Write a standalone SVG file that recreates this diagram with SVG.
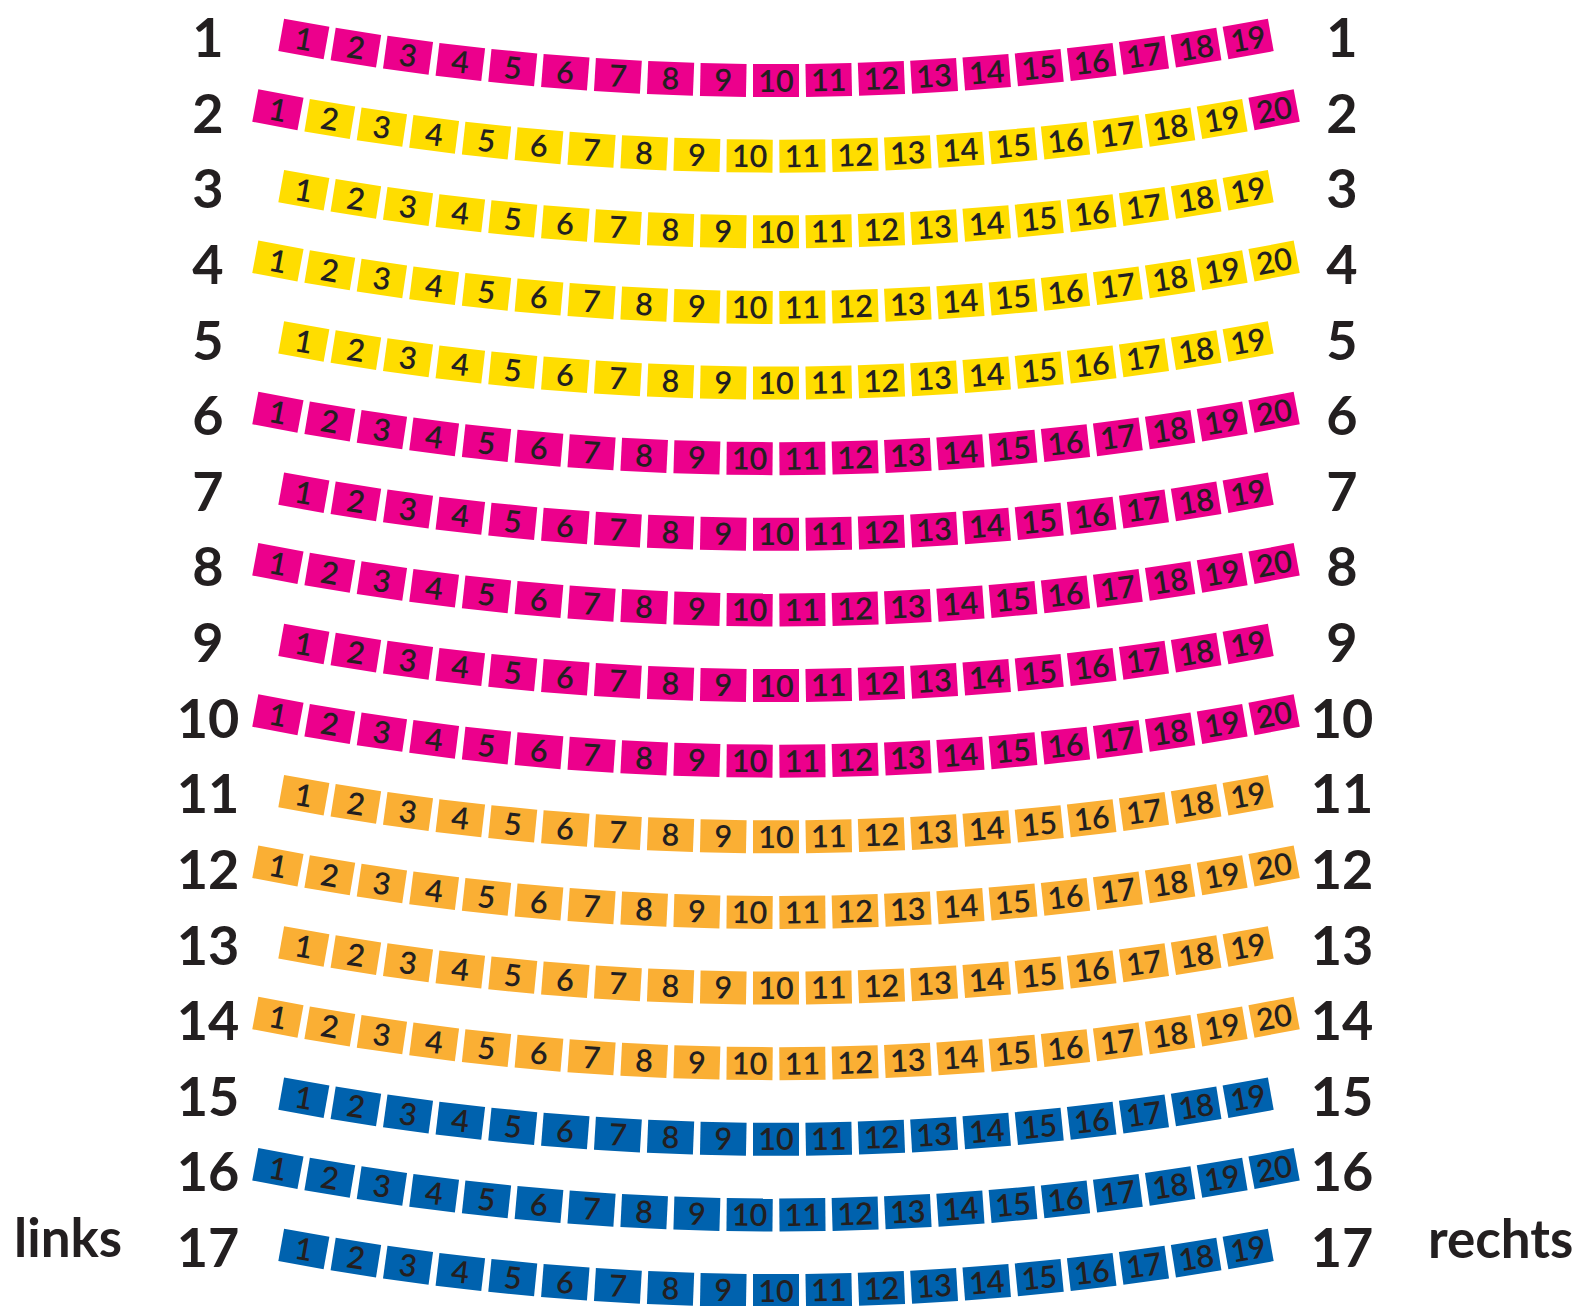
<svg xmlns="http://www.w3.org/2000/svg" xmlns:xlink="http://www.w3.org/1999/xlink" width="1588" height="1306" viewBox="0 0 1588 1306">
<style>
.m{fill:#EC008C}.y{fill:#FFDD00}.o{fill:#FAAF34}.b{fill:#0062AE}
.seat text{fill:#231F20;font-family:Lato,"Liberation Sans",sans-serif;font-weight:600;font-size:30.5px;text-anchor:middle}
.lbl{fill:#231F20;font-family:Lato,"Liberation Sans",sans-serif;font-weight:700;font-size:54px;text-anchor:middle}
.side{fill:#231F20;font-family:Lato,"Liberation Sans",sans-serif;font-weight:700;font-size:53px}
</style>
<defs><rect id="b" x="-23" y="2683.5" width="46" height="33"/></defs>
<rect width="1588" height="1306" fill="#fff"/>
<g id="labels-left" class="lbl">
<text x="208" y="57">1</text><text x="208" y="132.6">2</text><text x="208" y="208.3">3</text><text x="208" y="283.9">4</text><text x="208" y="359.5">5</text><text x="208" y="435.1">6</text><text x="208" y="510.8">7</text><text x="208" y="586.4">8</text><text x="208" y="662">9</text><text x="208" y="737.6">10</text><text x="208" y="813.3">11</text><text x="208" y="888.9">12</text><text x="208" y="964.5">13</text><text x="208" y="1040.1">14</text><text x="208" y="1115.8">15</text><text x="208" y="1191.4">16</text><text x="208" y="1267">17</text>
</g>
<g id="labels-right" class="lbl">
<text x="1342" y="57">1</text><text x="1342" y="132.6">2</text><text x="1342" y="208.3">3</text><text x="1342" y="283.9">4</text><text x="1342" y="359.5">5</text><text x="1342" y="435.1">6</text><text x="1342" y="510.8">7</text><text x="1342" y="586.4">8</text><text x="1342" y="662">9</text><text x="1342" y="737.6">10</text><text x="1342" y="813.3">11</text><text x="1342" y="888.9">12</text><text x="1342" y="964.5">13</text><text x="1342" y="1040.1">14</text><text x="1342" y="1115.8">15</text><text x="1342" y="1191.4">16</text><text x="1342" y="1267">17</text>
</g>
<g id="side-labels" class="side"><text id="links" x="14" y="1257">links</text><text id="rechts" x="1428" y="1258">rechts</text></g>

<g id="row1" class="seat m" transform="translate(776,-2619.5)">
<g id="r1s1" transform="rotate(10.071)"><use href="#b"/><text y="2711">1</text></g>
<g id="r1s2" transform="rotate(8.952)"><use href="#b"/><text y="2711">2</text></g>
<g id="r1s3" transform="rotate(7.833)"><use href="#b"/><text y="2711">3</text></g>
<g id="r1s4" transform="rotate(6.714)"><use href="#b"/><text y="2711">4</text></g>
<g id="r1s5" transform="rotate(5.595)"><use href="#b"/><text y="2711">5</text></g>
<g id="r1s6" transform="rotate(4.476)"><use href="#b"/><text y="2711">6</text></g>
<g id="r1s7" transform="rotate(3.357)"><use href="#b"/><text y="2711">7</text></g>
<g id="r1s8" transform="rotate(2.238)"><use href="#b"/><text y="2711">8</text></g>
<g id="r1s9" transform="rotate(1.119)"><use href="#b"/><text y="2711">9</text></g>
<g id="r1s10" transform="rotate(0)"><use href="#b"/><text y="2711">10</text></g>
<g id="r1s11" transform="rotate(-1.119)"><use href="#b"/><text y="2711">11</text></g>
<g id="r1s12" transform="rotate(-2.238)"><use href="#b"/><text y="2711">12</text></g>
<g id="r1s13" transform="rotate(-3.357)"><use href="#b"/><text y="2711">13</text></g>
<g id="r1s14" transform="rotate(-4.476)"><use href="#b"/><text y="2711">14</text></g>
<g id="r1s15" transform="rotate(-5.595)"><use href="#b"/><text y="2711">15</text></g>
<g id="r1s16" transform="rotate(-6.714)"><use href="#b"/><text y="2711">16</text></g>
<g id="r1s17" transform="rotate(-7.833)"><use href="#b"/><text y="2711">17</text></g>
<g id="r1s18" transform="rotate(-8.952)"><use href="#b"/><text y="2711">18</text></g>
<g id="r1s19" transform="rotate(-10.071)"><use href="#b"/><text y="2711">19</text></g>
</g>

<g id="row2" class="seat y" transform="translate(776,-2543.9)">
<g id="r2s1" class="m" transform="rotate(10.631)"><use href="#b"/><text y="2711">1</text></g>
<g id="r2s2" transform="rotate(9.512)"><use href="#b"/><text y="2711">2</text></g>
<g id="r2s3" transform="rotate(8.393)"><use href="#b"/><text y="2711">3</text></g>
<g id="r2s4" transform="rotate(7.274)"><use href="#b"/><text y="2711">4</text></g>
<g id="r2s5" transform="rotate(6.155)"><use href="#b"/><text y="2711">5</text></g>
<g id="r2s6" transform="rotate(5.036)"><use href="#b"/><text y="2711">6</text></g>
<g id="r2s7" transform="rotate(3.917)"><use href="#b"/><text y="2711">7</text></g>
<g id="r2s8" transform="rotate(2.798)"><use href="#b"/><text y="2711">8</text></g>
<g id="r2s9" transform="rotate(1.679)"><use href="#b"/><text y="2711">9</text></g>
<g id="r2s10" transform="rotate(0.56)"><use href="#b"/><text y="2711">10</text></g>
<g id="r2s11" transform="rotate(-0.56)"><use href="#b"/><text y="2711">11</text></g>
<g id="r2s12" transform="rotate(-1.679)"><use href="#b"/><text y="2711">12</text></g>
<g id="r2s13" transform="rotate(-2.798)"><use href="#b"/><text y="2711">13</text></g>
<g id="r2s14" transform="rotate(-3.917)"><use href="#b"/><text y="2711">14</text></g>
<g id="r2s15" transform="rotate(-5.036)"><use href="#b"/><text y="2711">15</text></g>
<g id="r2s16" transform="rotate(-6.155)"><use href="#b"/><text y="2711">16</text></g>
<g id="r2s17" transform="rotate(-7.274)"><use href="#b"/><text y="2711">17</text></g>
<g id="r2s18" transform="rotate(-8.393)"><use href="#b"/><text y="2711">18</text></g>
<g id="r2s19" transform="rotate(-9.512)"><use href="#b"/><text y="2711">19</text></g>
<g id="r2s20" class="m" transform="rotate(-10.631)"><use href="#b"/><text y="2711">20</text></g>
</g>

<g id="row3" class="seat y" transform="translate(776,-2468.25)">
<g id="r3s1" transform="rotate(10.071)"><use href="#b"/><text y="2711">1</text></g>
<g id="r3s2" transform="rotate(8.952)"><use href="#b"/><text y="2711">2</text></g>
<g id="r3s3" transform="rotate(7.833)"><use href="#b"/><text y="2711">3</text></g>
<g id="r3s4" transform="rotate(6.714)"><use href="#b"/><text y="2711">4</text></g>
<g id="r3s5" transform="rotate(5.595)"><use href="#b"/><text y="2711">5</text></g>
<g id="r3s6" transform="rotate(4.476)"><use href="#b"/><text y="2711">6</text></g>
<g id="r3s7" transform="rotate(3.357)"><use href="#b"/><text y="2711">7</text></g>
<g id="r3s8" transform="rotate(2.238)"><use href="#b"/><text y="2711">8</text></g>
<g id="r3s9" transform="rotate(1.119)"><use href="#b"/><text y="2711">9</text></g>
<g id="r3s10" transform="rotate(0)"><use href="#b"/><text y="2711">10</text></g>
<g id="r3s11" transform="rotate(-1.119)"><use href="#b"/><text y="2711">11</text></g>
<g id="r3s12" transform="rotate(-2.238)"><use href="#b"/><text y="2711">12</text></g>
<g id="r3s13" transform="rotate(-3.357)"><use href="#b"/><text y="2711">13</text></g>
<g id="r3s14" transform="rotate(-4.476)"><use href="#b"/><text y="2711">14</text></g>
<g id="r3s15" transform="rotate(-5.595)"><use href="#b"/><text y="2711">15</text></g>
<g id="r3s16" transform="rotate(-6.714)"><use href="#b"/><text y="2711">16</text></g>
<g id="r3s17" transform="rotate(-7.833)"><use href="#b"/><text y="2711">17</text></g>
<g id="r3s18" transform="rotate(-8.952)"><use href="#b"/><text y="2711">18</text></g>
<g id="r3s19" transform="rotate(-10.071)"><use href="#b"/><text y="2711">19</text></g>
</g>

<g id="row4" class="seat y" transform="translate(776,-2392.6)">
<g id="r4s1" transform="rotate(10.631)"><use href="#b"/><text y="2711">1</text></g>
<g id="r4s2" transform="rotate(9.512)"><use href="#b"/><text y="2711">2</text></g>
<g id="r4s3" transform="rotate(8.393)"><use href="#b"/><text y="2711">3</text></g>
<g id="r4s4" transform="rotate(7.274)"><use href="#b"/><text y="2711">4</text></g>
<g id="r4s5" transform="rotate(6.155)"><use href="#b"/><text y="2711">5</text></g>
<g id="r4s6" transform="rotate(5.036)"><use href="#b"/><text y="2711">6</text></g>
<g id="r4s7" transform="rotate(3.917)"><use href="#b"/><text y="2711">7</text></g>
<g id="r4s8" transform="rotate(2.798)"><use href="#b"/><text y="2711">8</text></g>
<g id="r4s9" transform="rotate(1.679)"><use href="#b"/><text y="2711">9</text></g>
<g id="r4s10" transform="rotate(0.56)"><use href="#b"/><text y="2711">10</text></g>
<g id="r4s11" transform="rotate(-0.56)"><use href="#b"/><text y="2711">11</text></g>
<g id="r4s12" transform="rotate(-1.679)"><use href="#b"/><text y="2711">12</text></g>
<g id="r4s13" transform="rotate(-2.798)"><use href="#b"/><text y="2711">13</text></g>
<g id="r4s14" transform="rotate(-3.917)"><use href="#b"/><text y="2711">14</text></g>
<g id="r4s15" transform="rotate(-5.036)"><use href="#b"/><text y="2711">15</text></g>
<g id="r4s16" transform="rotate(-6.155)"><use href="#b"/><text y="2711">16</text></g>
<g id="r4s17" transform="rotate(-7.274)"><use href="#b"/><text y="2711">17</text></g>
<g id="r4s18" transform="rotate(-8.393)"><use href="#b"/><text y="2711">18</text></g>
<g id="r4s19" transform="rotate(-9.512)"><use href="#b"/><text y="2711">19</text></g>
<g id="r4s20" transform="rotate(-10.631)"><use href="#b"/><text y="2711">20</text></g>
</g>

<g id="row5" class="seat y" transform="translate(776,-2317)">
<g id="r5s1" transform="rotate(10.071)"><use href="#b"/><text y="2711">1</text></g>
<g id="r5s2" transform="rotate(8.952)"><use href="#b"/><text y="2711">2</text></g>
<g id="r5s3" transform="rotate(7.833)"><use href="#b"/><text y="2711">3</text></g>
<g id="r5s4" transform="rotate(6.714)"><use href="#b"/><text y="2711">4</text></g>
<g id="r5s5" transform="rotate(5.595)"><use href="#b"/><text y="2711">5</text></g>
<g id="r5s6" transform="rotate(4.476)"><use href="#b"/><text y="2711">6</text></g>
<g id="r5s7" transform="rotate(3.357)"><use href="#b"/><text y="2711">7</text></g>
<g id="r5s8" transform="rotate(2.238)"><use href="#b"/><text y="2711">8</text></g>
<g id="r5s9" transform="rotate(1.119)"><use href="#b"/><text y="2711">9</text></g>
<g id="r5s10" transform="rotate(0)"><use href="#b"/><text y="2711">10</text></g>
<g id="r5s11" transform="rotate(-1.119)"><use href="#b"/><text y="2711">11</text></g>
<g id="r5s12" transform="rotate(-2.238)"><use href="#b"/><text y="2711">12</text></g>
<g id="r5s13" transform="rotate(-3.357)"><use href="#b"/><text y="2711">13</text></g>
<g id="r5s14" transform="rotate(-4.476)"><use href="#b"/><text y="2711">14</text></g>
<g id="r5s15" transform="rotate(-5.595)"><use href="#b"/><text y="2711">15</text></g>
<g id="r5s16" transform="rotate(-6.714)"><use href="#b"/><text y="2711">16</text></g>
<g id="r5s17" transform="rotate(-7.833)"><use href="#b"/><text y="2711">17</text></g>
<g id="r5s18" transform="rotate(-8.952)"><use href="#b"/><text y="2711">18</text></g>
<g id="r5s19" transform="rotate(-10.071)"><use href="#b"/><text y="2711">19</text></g>
</g>

<g id="row6" class="seat m" transform="translate(776,-2241.4)">
<g id="r6s1" transform="rotate(10.631)"><use href="#b"/><text y="2711">1</text></g>
<g id="r6s2" transform="rotate(9.512)"><use href="#b"/><text y="2711">2</text></g>
<g id="r6s3" transform="rotate(8.393)"><use href="#b"/><text y="2711">3</text></g>
<g id="r6s4" transform="rotate(7.274)"><use href="#b"/><text y="2711">4</text></g>
<g id="r6s5" transform="rotate(6.155)"><use href="#b"/><text y="2711">5</text></g>
<g id="r6s6" transform="rotate(5.036)"><use href="#b"/><text y="2711">6</text></g>
<g id="r6s7" transform="rotate(3.917)"><use href="#b"/><text y="2711">7</text></g>
<g id="r6s8" transform="rotate(2.798)"><use href="#b"/><text y="2711">8</text></g>
<g id="r6s9" transform="rotate(1.679)"><use href="#b"/><text y="2711">9</text></g>
<g id="r6s10" transform="rotate(0.56)"><use href="#b"/><text y="2711">10</text></g>
<g id="r6s11" transform="rotate(-0.56)"><use href="#b"/><text y="2711">11</text></g>
<g id="r6s12" transform="rotate(-1.679)"><use href="#b"/><text y="2711">12</text></g>
<g id="r6s13" transform="rotate(-2.798)"><use href="#b"/><text y="2711">13</text></g>
<g id="r6s14" transform="rotate(-3.917)"><use href="#b"/><text y="2711">14</text></g>
<g id="r6s15" transform="rotate(-5.036)"><use href="#b"/><text y="2711">15</text></g>
<g id="r6s16" transform="rotate(-6.155)"><use href="#b"/><text y="2711">16</text></g>
<g id="r6s17" transform="rotate(-7.274)"><use href="#b"/><text y="2711">17</text></g>
<g id="r6s18" transform="rotate(-8.393)"><use href="#b"/><text y="2711">18</text></g>
<g id="r6s19" transform="rotate(-9.512)"><use href="#b"/><text y="2711">19</text></g>
<g id="r6s20" transform="rotate(-10.631)"><use href="#b"/><text y="2711">20</text></g>
</g>

<g id="row7" class="seat m" transform="translate(776,-2165.75)">
<g id="r7s1" transform="rotate(10.071)"><use href="#b"/><text y="2711">1</text></g>
<g id="r7s2" transform="rotate(8.952)"><use href="#b"/><text y="2711">2</text></g>
<g id="r7s3" transform="rotate(7.833)"><use href="#b"/><text y="2711">3</text></g>
<g id="r7s4" transform="rotate(6.714)"><use href="#b"/><text y="2711">4</text></g>
<g id="r7s5" transform="rotate(5.595)"><use href="#b"/><text y="2711">5</text></g>
<g id="r7s6" transform="rotate(4.476)"><use href="#b"/><text y="2711">6</text></g>
<g id="r7s7" transform="rotate(3.357)"><use href="#b"/><text y="2711">7</text></g>
<g id="r7s8" transform="rotate(2.238)"><use href="#b"/><text y="2711">8</text></g>
<g id="r7s9" transform="rotate(1.119)"><use href="#b"/><text y="2711">9</text></g>
<g id="r7s10" transform="rotate(0)"><use href="#b"/><text y="2711">10</text></g>
<g id="r7s11" transform="rotate(-1.119)"><use href="#b"/><text y="2711">11</text></g>
<g id="r7s12" transform="rotate(-2.238)"><use href="#b"/><text y="2711">12</text></g>
<g id="r7s13" transform="rotate(-3.357)"><use href="#b"/><text y="2711">13</text></g>
<g id="r7s14" transform="rotate(-4.476)"><use href="#b"/><text y="2711">14</text></g>
<g id="r7s15" transform="rotate(-5.595)"><use href="#b"/><text y="2711">15</text></g>
<g id="r7s16" transform="rotate(-6.714)"><use href="#b"/><text y="2711">16</text></g>
<g id="r7s17" transform="rotate(-7.833)"><use href="#b"/><text y="2711">17</text></g>
<g id="r7s18" transform="rotate(-8.952)"><use href="#b"/><text y="2711">18</text></g>
<g id="r7s19" transform="rotate(-10.071)"><use href="#b"/><text y="2711">19</text></g>
</g>

<g id="row8" class="seat m" transform="translate(776,-2090.1)">
<g id="r8s1" transform="rotate(10.631)"><use href="#b"/><text y="2711">1</text></g>
<g id="r8s2" transform="rotate(9.512)"><use href="#b"/><text y="2711">2</text></g>
<g id="r8s3" transform="rotate(8.393)"><use href="#b"/><text y="2711">3</text></g>
<g id="r8s4" transform="rotate(7.274)"><use href="#b"/><text y="2711">4</text></g>
<g id="r8s5" transform="rotate(6.155)"><use href="#b"/><text y="2711">5</text></g>
<g id="r8s6" transform="rotate(5.036)"><use href="#b"/><text y="2711">6</text></g>
<g id="r8s7" transform="rotate(3.917)"><use href="#b"/><text y="2711">7</text></g>
<g id="r8s8" transform="rotate(2.798)"><use href="#b"/><text y="2711">8</text></g>
<g id="r8s9" transform="rotate(1.679)"><use href="#b"/><text y="2711">9</text></g>
<g id="r8s10" transform="rotate(0.56)"><use href="#b"/><text y="2711">10</text></g>
<g id="r8s11" transform="rotate(-0.56)"><use href="#b"/><text y="2711">11</text></g>
<g id="r8s12" transform="rotate(-1.679)"><use href="#b"/><text y="2711">12</text></g>
<g id="r8s13" transform="rotate(-2.798)"><use href="#b"/><text y="2711">13</text></g>
<g id="r8s14" transform="rotate(-3.917)"><use href="#b"/><text y="2711">14</text></g>
<g id="r8s15" transform="rotate(-5.036)"><use href="#b"/><text y="2711">15</text></g>
<g id="r8s16" transform="rotate(-6.155)"><use href="#b"/><text y="2711">16</text></g>
<g id="r8s17" transform="rotate(-7.274)"><use href="#b"/><text y="2711">17</text></g>
<g id="r8s18" transform="rotate(-8.393)"><use href="#b"/><text y="2711">18</text></g>
<g id="r8s19" transform="rotate(-9.512)"><use href="#b"/><text y="2711">19</text></g>
<g id="r8s20" transform="rotate(-10.631)"><use href="#b"/><text y="2711">20</text></g>
</g>

<g id="row9" class="seat m" transform="translate(776,-2014.5)">
<g id="r9s1" transform="rotate(10.071)"><use href="#b"/><text y="2711">1</text></g>
<g id="r9s2" transform="rotate(8.952)"><use href="#b"/><text y="2711">2</text></g>
<g id="r9s3" transform="rotate(7.833)"><use href="#b"/><text y="2711">3</text></g>
<g id="r9s4" transform="rotate(6.714)"><use href="#b"/><text y="2711">4</text></g>
<g id="r9s5" transform="rotate(5.595)"><use href="#b"/><text y="2711">5</text></g>
<g id="r9s6" transform="rotate(4.476)"><use href="#b"/><text y="2711">6</text></g>
<g id="r9s7" transform="rotate(3.357)"><use href="#b"/><text y="2711">7</text></g>
<g id="r9s8" transform="rotate(2.238)"><use href="#b"/><text y="2711">8</text></g>
<g id="r9s9" transform="rotate(1.119)"><use href="#b"/><text y="2711">9</text></g>
<g id="r9s10" transform="rotate(0)"><use href="#b"/><text y="2711">10</text></g>
<g id="r9s11" transform="rotate(-1.119)"><use href="#b"/><text y="2711">11</text></g>
<g id="r9s12" transform="rotate(-2.238)"><use href="#b"/><text y="2711">12</text></g>
<g id="r9s13" transform="rotate(-3.357)"><use href="#b"/><text y="2711">13</text></g>
<g id="r9s14" transform="rotate(-4.476)"><use href="#b"/><text y="2711">14</text></g>
<g id="r9s15" transform="rotate(-5.595)"><use href="#b"/><text y="2711">15</text></g>
<g id="r9s16" transform="rotate(-6.714)"><use href="#b"/><text y="2711">16</text></g>
<g id="r9s17" transform="rotate(-7.833)"><use href="#b"/><text y="2711">17</text></g>
<g id="r9s18" transform="rotate(-8.952)"><use href="#b"/><text y="2711">18</text></g>
<g id="r9s19" transform="rotate(-10.071)"><use href="#b"/><text y="2711">19</text></g>
</g>

<g id="row10" class="seat m" transform="translate(776,-1938.9)">
<g id="r10s1" transform="rotate(10.631)"><use href="#b"/><text y="2711">1</text></g>
<g id="r10s2" transform="rotate(9.512)"><use href="#b"/><text y="2711">2</text></g>
<g id="r10s3" transform="rotate(8.393)"><use href="#b"/><text y="2711">3</text></g>
<g id="r10s4" transform="rotate(7.274)"><use href="#b"/><text y="2711">4</text></g>
<g id="r10s5" transform="rotate(6.155)"><use href="#b"/><text y="2711">5</text></g>
<g id="r10s6" transform="rotate(5.036)"><use href="#b"/><text y="2711">6</text></g>
<g id="r10s7" transform="rotate(3.917)"><use href="#b"/><text y="2711">7</text></g>
<g id="r10s8" transform="rotate(2.798)"><use href="#b"/><text y="2711">8</text></g>
<g id="r10s9" transform="rotate(1.679)"><use href="#b"/><text y="2711">9</text></g>
<g id="r10s10" transform="rotate(0.56)"><use href="#b"/><text y="2711">10</text></g>
<g id="r10s11" transform="rotate(-0.56)"><use href="#b"/><text y="2711">11</text></g>
<g id="r10s12" transform="rotate(-1.679)"><use href="#b"/><text y="2711">12</text></g>
<g id="r10s13" transform="rotate(-2.798)"><use href="#b"/><text y="2711">13</text></g>
<g id="r10s14" transform="rotate(-3.917)"><use href="#b"/><text y="2711">14</text></g>
<g id="r10s15" transform="rotate(-5.036)"><use href="#b"/><text y="2711">15</text></g>
<g id="r10s16" transform="rotate(-6.155)"><use href="#b"/><text y="2711">16</text></g>
<g id="r10s17" transform="rotate(-7.274)"><use href="#b"/><text y="2711">17</text></g>
<g id="r10s18" transform="rotate(-8.393)"><use href="#b"/><text y="2711">18</text></g>
<g id="r10s19" transform="rotate(-9.512)"><use href="#b"/><text y="2711">19</text></g>
<g id="r10s20" transform="rotate(-10.631)"><use href="#b"/><text y="2711">20</text></g>
</g>

<g id="row11" class="seat o" transform="translate(776,-1863.25)">
<g id="r11s1" transform="rotate(10.071)"><use href="#b"/><text y="2711">1</text></g>
<g id="r11s2" transform="rotate(8.952)"><use href="#b"/><text y="2711">2</text></g>
<g id="r11s3" transform="rotate(7.833)"><use href="#b"/><text y="2711">3</text></g>
<g id="r11s4" transform="rotate(6.714)"><use href="#b"/><text y="2711">4</text></g>
<g id="r11s5" transform="rotate(5.595)"><use href="#b"/><text y="2711">5</text></g>
<g id="r11s6" transform="rotate(4.476)"><use href="#b"/><text y="2711">6</text></g>
<g id="r11s7" transform="rotate(3.357)"><use href="#b"/><text y="2711">7</text></g>
<g id="r11s8" transform="rotate(2.238)"><use href="#b"/><text y="2711">8</text></g>
<g id="r11s9" transform="rotate(1.119)"><use href="#b"/><text y="2711">9</text></g>
<g id="r11s10" transform="rotate(0)"><use href="#b"/><text y="2711">10</text></g>
<g id="r11s11" transform="rotate(-1.119)"><use href="#b"/><text y="2711">11</text></g>
<g id="r11s12" transform="rotate(-2.238)"><use href="#b"/><text y="2711">12</text></g>
<g id="r11s13" transform="rotate(-3.357)"><use href="#b"/><text y="2711">13</text></g>
<g id="r11s14" transform="rotate(-4.476)"><use href="#b"/><text y="2711">14</text></g>
<g id="r11s15" transform="rotate(-5.595)"><use href="#b"/><text y="2711">15</text></g>
<g id="r11s16" transform="rotate(-6.714)"><use href="#b"/><text y="2711">16</text></g>
<g id="r11s17" transform="rotate(-7.833)"><use href="#b"/><text y="2711">17</text></g>
<g id="r11s18" transform="rotate(-8.952)"><use href="#b"/><text y="2711">18</text></g>
<g id="r11s19" transform="rotate(-10.071)"><use href="#b"/><text y="2711">19</text></g>
</g>

<g id="row12" class="seat o" transform="translate(776,-1787.6)">
<g id="r12s1" transform="rotate(10.631)"><use href="#b"/><text y="2711">1</text></g>
<g id="r12s2" transform="rotate(9.512)"><use href="#b"/><text y="2711">2</text></g>
<g id="r12s3" transform="rotate(8.393)"><use href="#b"/><text y="2711">3</text></g>
<g id="r12s4" transform="rotate(7.274)"><use href="#b"/><text y="2711">4</text></g>
<g id="r12s5" transform="rotate(6.155)"><use href="#b"/><text y="2711">5</text></g>
<g id="r12s6" transform="rotate(5.036)"><use href="#b"/><text y="2711">6</text></g>
<g id="r12s7" transform="rotate(3.917)"><use href="#b"/><text y="2711">7</text></g>
<g id="r12s8" transform="rotate(2.798)"><use href="#b"/><text y="2711">8</text></g>
<g id="r12s9" transform="rotate(1.679)"><use href="#b"/><text y="2711">9</text></g>
<g id="r12s10" transform="rotate(0.56)"><use href="#b"/><text y="2711">10</text></g>
<g id="r12s11" transform="rotate(-0.56)"><use href="#b"/><text y="2711">11</text></g>
<g id="r12s12" transform="rotate(-1.679)"><use href="#b"/><text y="2711">12</text></g>
<g id="r12s13" transform="rotate(-2.798)"><use href="#b"/><text y="2711">13</text></g>
<g id="r12s14" transform="rotate(-3.917)"><use href="#b"/><text y="2711">14</text></g>
<g id="r12s15" transform="rotate(-5.036)"><use href="#b"/><text y="2711">15</text></g>
<g id="r12s16" transform="rotate(-6.155)"><use href="#b"/><text y="2711">16</text></g>
<g id="r12s17" transform="rotate(-7.274)"><use href="#b"/><text y="2711">17</text></g>
<g id="r12s18" transform="rotate(-8.393)"><use href="#b"/><text y="2711">18</text></g>
<g id="r12s19" transform="rotate(-9.512)"><use href="#b"/><text y="2711">19</text></g>
<g id="r12s20" transform="rotate(-10.631)"><use href="#b"/><text y="2711">20</text></g>
</g>

<g id="row13" class="seat o" transform="translate(776,-1712)">
<g id="r13s1" transform="rotate(10.071)"><use href="#b"/><text y="2711">1</text></g>
<g id="r13s2" transform="rotate(8.952)"><use href="#b"/><text y="2711">2</text></g>
<g id="r13s3" transform="rotate(7.833)"><use href="#b"/><text y="2711">3</text></g>
<g id="r13s4" transform="rotate(6.714)"><use href="#b"/><text y="2711">4</text></g>
<g id="r13s5" transform="rotate(5.595)"><use href="#b"/><text y="2711">5</text></g>
<g id="r13s6" transform="rotate(4.476)"><use href="#b"/><text y="2711">6</text></g>
<g id="r13s7" transform="rotate(3.357)"><use href="#b"/><text y="2711">7</text></g>
<g id="r13s8" transform="rotate(2.238)"><use href="#b"/><text y="2711">8</text></g>
<g id="r13s9" transform="rotate(1.119)"><use href="#b"/><text y="2711">9</text></g>
<g id="r13s10" transform="rotate(0)"><use href="#b"/><text y="2711">10</text></g>
<g id="r13s11" transform="rotate(-1.119)"><use href="#b"/><text y="2711">11</text></g>
<g id="r13s12" transform="rotate(-2.238)"><use href="#b"/><text y="2711">12</text></g>
<g id="r13s13" transform="rotate(-3.357)"><use href="#b"/><text y="2711">13</text></g>
<g id="r13s14" transform="rotate(-4.476)"><use href="#b"/><text y="2711">14</text></g>
<g id="r13s15" transform="rotate(-5.595)"><use href="#b"/><text y="2711">15</text></g>
<g id="r13s16" transform="rotate(-6.714)"><use href="#b"/><text y="2711">16</text></g>
<g id="r13s17" transform="rotate(-7.833)"><use href="#b"/><text y="2711">17</text></g>
<g id="r13s18" transform="rotate(-8.952)"><use href="#b"/><text y="2711">18</text></g>
<g id="r13s19" transform="rotate(-10.071)"><use href="#b"/><text y="2711">19</text></g>
</g>

<g id="row14" class="seat o" transform="translate(776,-1636.4)">
<g id="r14s1" transform="rotate(10.631)"><use href="#b"/><text y="2711">1</text></g>
<g id="r14s2" transform="rotate(9.512)"><use href="#b"/><text y="2711">2</text></g>
<g id="r14s3" transform="rotate(8.393)"><use href="#b"/><text y="2711">3</text></g>
<g id="r14s4" transform="rotate(7.274)"><use href="#b"/><text y="2711">4</text></g>
<g id="r14s5" transform="rotate(6.155)"><use href="#b"/><text y="2711">5</text></g>
<g id="r14s6" transform="rotate(5.036)"><use href="#b"/><text y="2711">6</text></g>
<g id="r14s7" transform="rotate(3.917)"><use href="#b"/><text y="2711">7</text></g>
<g id="r14s8" transform="rotate(2.798)"><use href="#b"/><text y="2711">8</text></g>
<g id="r14s9" transform="rotate(1.679)"><use href="#b"/><text y="2711">9</text></g>
<g id="r14s10" transform="rotate(0.56)"><use href="#b"/><text y="2711">10</text></g>
<g id="r14s11" transform="rotate(-0.56)"><use href="#b"/><text y="2711">11</text></g>
<g id="r14s12" transform="rotate(-1.679)"><use href="#b"/><text y="2711">12</text></g>
<g id="r14s13" transform="rotate(-2.798)"><use href="#b"/><text y="2711">13</text></g>
<g id="r14s14" transform="rotate(-3.917)"><use href="#b"/><text y="2711">14</text></g>
<g id="r14s15" transform="rotate(-5.036)"><use href="#b"/><text y="2711">15</text></g>
<g id="r14s16" transform="rotate(-6.155)"><use href="#b"/><text y="2711">16</text></g>
<g id="r14s17" transform="rotate(-7.274)"><use href="#b"/><text y="2711">17</text></g>
<g id="r14s18" transform="rotate(-8.393)"><use href="#b"/><text y="2711">18</text></g>
<g id="r14s19" transform="rotate(-9.512)"><use href="#b"/><text y="2711">19</text></g>
<g id="r14s20" transform="rotate(-10.631)"><use href="#b"/><text y="2711">20</text></g>
</g>

<g id="row15" class="seat b" transform="translate(776,-1560.75)">
<g id="r15s1" transform="rotate(10.071)"><use href="#b"/><text y="2711">1</text></g>
<g id="r15s2" transform="rotate(8.952)"><use href="#b"/><text y="2711">2</text></g>
<g id="r15s3" transform="rotate(7.833)"><use href="#b"/><text y="2711">3</text></g>
<g id="r15s4" transform="rotate(6.714)"><use href="#b"/><text y="2711">4</text></g>
<g id="r15s5" transform="rotate(5.595)"><use href="#b"/><text y="2711">5</text></g>
<g id="r15s6" transform="rotate(4.476)"><use href="#b"/><text y="2711">6</text></g>
<g id="r15s7" transform="rotate(3.357)"><use href="#b"/><text y="2711">7</text></g>
<g id="r15s8" transform="rotate(2.238)"><use href="#b"/><text y="2711">8</text></g>
<g id="r15s9" transform="rotate(1.119)"><use href="#b"/><text y="2711">9</text></g>
<g id="r15s10" transform="rotate(0)"><use href="#b"/><text y="2711">10</text></g>
<g id="r15s11" transform="rotate(-1.119)"><use href="#b"/><text y="2711">11</text></g>
<g id="r15s12" transform="rotate(-2.238)"><use href="#b"/><text y="2711">12</text></g>
<g id="r15s13" transform="rotate(-3.357)"><use href="#b"/><text y="2711">13</text></g>
<g id="r15s14" transform="rotate(-4.476)"><use href="#b"/><text y="2711">14</text></g>
<g id="r15s15" transform="rotate(-5.595)"><use href="#b"/><text y="2711">15</text></g>
<g id="r15s16" transform="rotate(-6.714)"><use href="#b"/><text y="2711">16</text></g>
<g id="r15s17" transform="rotate(-7.833)"><use href="#b"/><text y="2711">17</text></g>
<g id="r15s18" transform="rotate(-8.952)"><use href="#b"/><text y="2711">18</text></g>
<g id="r15s19" transform="rotate(-10.071)"><use href="#b"/><text y="2711">19</text></g>
</g>

<g id="row16" class="seat b" transform="translate(776,-1485.1)">
<g id="r16s1" transform="rotate(10.631)"><use href="#b"/><text y="2711">1</text></g>
<g id="r16s2" transform="rotate(9.512)"><use href="#b"/><text y="2711">2</text></g>
<g id="r16s3" transform="rotate(8.393)"><use href="#b"/><text y="2711">3</text></g>
<g id="r16s4" transform="rotate(7.274)"><use href="#b"/><text y="2711">4</text></g>
<g id="r16s5" transform="rotate(6.155)"><use href="#b"/><text y="2711">5</text></g>
<g id="r16s6" transform="rotate(5.036)"><use href="#b"/><text y="2711">6</text></g>
<g id="r16s7" transform="rotate(3.917)"><use href="#b"/><text y="2711">7</text></g>
<g id="r16s8" transform="rotate(2.798)"><use href="#b"/><text y="2711">8</text></g>
<g id="r16s9" transform="rotate(1.679)"><use href="#b"/><text y="2711">9</text></g>
<g id="r16s10" transform="rotate(0.56)"><use href="#b"/><text y="2711">10</text></g>
<g id="r16s11" transform="rotate(-0.56)"><use href="#b"/><text y="2711">11</text></g>
<g id="r16s12" transform="rotate(-1.679)"><use href="#b"/><text y="2711">12</text></g>
<g id="r16s13" transform="rotate(-2.798)"><use href="#b"/><text y="2711">13</text></g>
<g id="r16s14" transform="rotate(-3.917)"><use href="#b"/><text y="2711">14</text></g>
<g id="r16s15" transform="rotate(-5.036)"><use href="#b"/><text y="2711">15</text></g>
<g id="r16s16" transform="rotate(-6.155)"><use href="#b"/><text y="2711">16</text></g>
<g id="r16s17" transform="rotate(-7.274)"><use href="#b"/><text y="2711">17</text></g>
<g id="r16s18" transform="rotate(-8.393)"><use href="#b"/><text y="2711">18</text></g>
<g id="r16s19" transform="rotate(-9.512)"><use href="#b"/><text y="2711">19</text></g>
<g id="r16s20" transform="rotate(-10.631)"><use href="#b"/><text y="2711">20</text></g>
</g>

<g id="row17" class="seat b" transform="translate(776,-1409.5)">
<g id="r17s1" transform="rotate(10.071)"><use href="#b"/><text y="2711">1</text></g>
<g id="r17s2" transform="rotate(8.952)"><use href="#b"/><text y="2711">2</text></g>
<g id="r17s3" transform="rotate(7.833)"><use href="#b"/><text y="2711">3</text></g>
<g id="r17s4" transform="rotate(6.714)"><use href="#b"/><text y="2711">4</text></g>
<g id="r17s5" transform="rotate(5.595)"><use href="#b"/><text y="2711">5</text></g>
<g id="r17s6" transform="rotate(4.476)"><use href="#b"/><text y="2711">6</text></g>
<g id="r17s7" transform="rotate(3.357)"><use href="#b"/><text y="2711">7</text></g>
<g id="r17s8" transform="rotate(2.238)"><use href="#b"/><text y="2711">8</text></g>
<g id="r17s9" transform="rotate(1.119)"><use href="#b"/><text y="2711">9</text></g>
<g id="r17s10" transform="rotate(0)"><use href="#b"/><text y="2711">10</text></g>
<g id="r17s11" transform="rotate(-1.119)"><use href="#b"/><text y="2711">11</text></g>
<g id="r17s12" transform="rotate(-2.238)"><use href="#b"/><text y="2711">12</text></g>
<g id="r17s13" transform="rotate(-3.357)"><use href="#b"/><text y="2711">13</text></g>
<g id="r17s14" transform="rotate(-4.476)"><use href="#b"/><text y="2711">14</text></g>
<g id="r17s15" transform="rotate(-5.595)"><use href="#b"/><text y="2711">15</text></g>
<g id="r17s16" transform="rotate(-6.714)"><use href="#b"/><text y="2711">16</text></g>
<g id="r17s17" transform="rotate(-7.833)"><use href="#b"/><text y="2711">17</text></g>
<g id="r17s18" transform="rotate(-8.952)"><use href="#b"/><text y="2711">18</text></g>
<g id="r17s19" transform="rotate(-10.071)"><use href="#b"/><text y="2711">19</text></g>
</g>
</svg>
